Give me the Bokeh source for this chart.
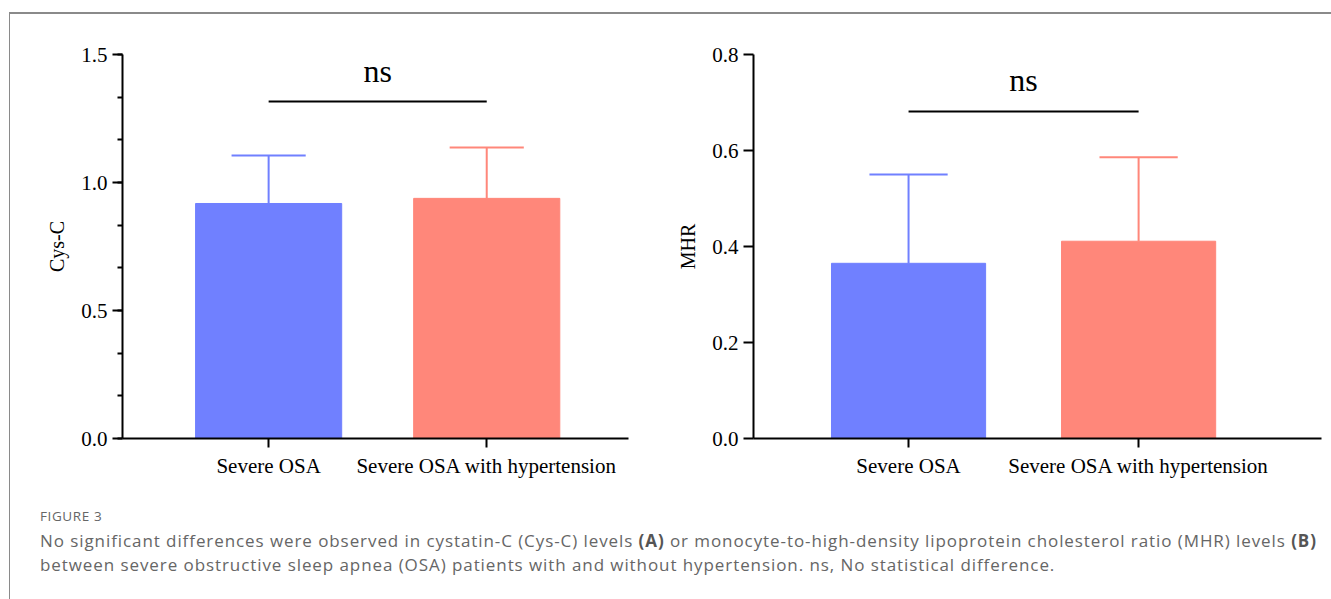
from bokeh.plotting import figure
from bokeh.models import Range1d, FixedTicker, SingleIntervalTicker, NumeralTickFormatter, Div
from bokeh.layouts import row, column
from bokeh.core.properties import value
from bokeh.embed import file_html
from bokeh.resources import INLINE

# ---- data ----
groups = ["Severe OSA", "Severe OSA with hypertension"]
group_x = [1, 2]
cysc_mean = [0.918, 0.938]
cysc_sd = [0.187, 0.199]
mhr_mean = [0.365, 0.411]
mhr_sd = [0.185, 0.175]
sig_label = "ns"
colors = ["#7080FF", "#FF877A"]

SERIF = "Liberation Serif"


def make_panel(means, sds, ylabel, ymax, ticker, x_start, x_end, width,
               bl, br, bracket_y, text_y):
    p = figure(width=width, height=481,
               x_range=Range1d(x_start, x_end), y_range=Range1d(0, ymax),
               output_backend="svg", toolbar_location=None,
               min_border_left=bl, min_border_right=br,
               min_border_top=40, min_border_bottom=57)
    p.outline_line_color = None
    p.xgrid.grid_line_color = None
    p.ygrid.grid_line_color = None
    p.background_fill_color = "white"
    p.border_fill_color = "white"

    tops = [m + s for m, s in zip(means, sds)]
    bw = 0.67
    cw = 0.34
    p.vbar(x=group_x, top=means, bottom=0, width=bw, fill_color=colors,
           line_color=colors, line_width=1)
    p.segment(x0=group_x, y0=means, x1=group_x, y1=tops, line_color=colors,
              line_width=2)
    p.segment(x0=[x - cw / 2 for x in group_x], y0=tops,
              x1=[x + cw / 2 for x in group_x], y1=tops,
              line_color=colors, line_width=2)
    # significance bracket
    p.segment(x0=[group_x[0]], y0=[bracket_y], x1=[group_x[1]], y1=[bracket_y],
              line_color="black", line_width=2)
    p.text(x=[(group_x[0] + group_x[1]) / 2], y=[text_y], text=[sig_label],
           text_align="center", text_baseline="alphabetic",
           text_font=value(SERIF), text_font_size="32px", text_color="black")

    # axes
    xa = p.xaxis[0]
    xa.ticker = FixedTicker(ticks=group_x)
    xa.major_label_overrides = {group_x[0]: groups[0], group_x[1]: groups[1]}
    xa.minor_tick_line_color = None
    xa.major_tick_in = 0
    xa.major_tick_out = 9
    xa.major_label_standoff = 6
    for ax in (p.xaxis[0], p.yaxis[0]):
        ax.axis_line_width = 2
        ax.axis_line_color = "black"
        ax.major_tick_line_width = 2
        ax.major_tick_line_color = "black"
        ax.minor_tick_line_width = 2
        ax.minor_tick_line_color = "black"
        ax.major_label_text_font = SERIF
        ax.major_label_text_font_size = "21px"
        ax.major_label_text_color = "black"
        ax.axis_label_text_font = SERIF
        ax.axis_label_text_font_style = "normal"
        ax.axis_label_text_color = "black"
    ya = p.yaxis[0]
    ya.ticker = ticker
    ya.formatter = NumeralTickFormatter(format="0.0")
    ya.major_tick_in = 0
    ya.major_tick_out = 10
    ya.minor_tick_in = 0
    ya.minor_tick_out = 5
    ya.major_label_standoff = 5
    ya.axis_label = ylabel
    ya.axis_label_text_font_size = "20px"
    ya.axis_label_standoff = 10
    return p


pA = make_panel(cysc_mean, cysc_sd, "Cys-C", 1.5,
                SingleIntervalTicker(interval=0.5, num_minor_ticks=3),
                0.33, 2.65, 650, 112, 32, 1.316, 1.437)
pB = make_panel(mhr_mean, mhr_sd, "MHR", 0.8,
                FixedTicker(ticks=[0, 0.2, 0.4, 0.6, 0.8], minor_ticks=[]),
                0.326, 2.795, 670, 93, 9, 0.681, 0.746)

caption_html = (
    '<div style="font-family:\'Open Sans\',sans-serif;color:#666666;'
    'padding:8px 0 0 25px;white-space:nowrap;">'
    '<div style="font-size:13.5px;line-height:16px;color:#666;letter-spacing:0.6px;">FIGURE 3</div>'
    '<div style="font-size:17px;line-height:24px;margin-top:5px;letter-spacing:0.92px;">'
    'No significant differences were observed in cystatin-C (Cys-C) levels '
    '<b style="color:#555;">(A)</b> or monocyte-to-high-density lipoprotein cholesterol ratio (MHR) levels '
    '<b style="color:#555;">(B)</b><br>'
    'between severe obstructive sleep apnea (OSA) patients with and without hypertension. '
    'ns, No statistical difference.</div></div>'
)
caption = Div(text=caption_html, width=1318, height=100)

layout = column(row(pA, pB), caption, margin=(12, 0, 0, 9),
                styles={"border-top": "2px solid #8a8a8a",
                        "border-left": "1px solid #8a8a8a"})

open("out.html", "w").write(file_html(layout, INLINE))
